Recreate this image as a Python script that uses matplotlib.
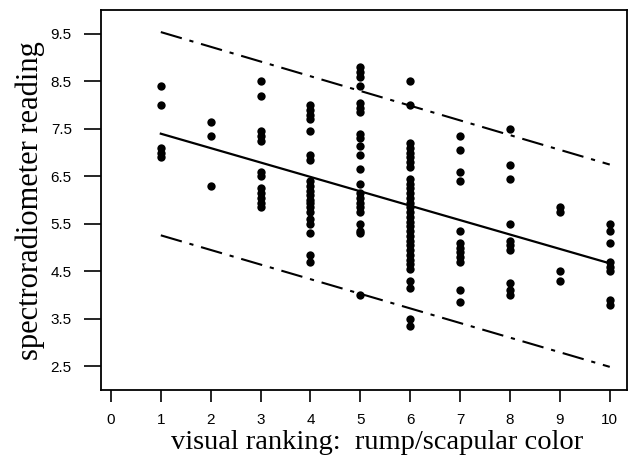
import numpy as np
import matplotlib
matplotlib.use('Agg')
import matplotlib.pyplot as plt

# spectroradiometer readings per visual rank
rank_1 = [8.4, 8.0, 7.1, 7.0, 6.9]
rank_2 = [7.65, 7.35, 6.3]
rank_3 = [8.5, 8.2, 7.45, 7.35, 7.25, 6.6, 6.5, 6.25, 6.15, 6.05, 5.95, 5.85]
rank_4 = [8.0, 7.9, 7.8, 7.7, 7.45, 6.95, 6.85, 6.4, 6.3, 6.2, 6.1, 6.0, 5.95,
          5.85, 5.75, 5.6, 5.5, 5.3, 4.85, 4.7]
rank_5 = [8.8, 8.7, 8.6, 8.4, 8.05, 7.95, 7.85, 7.4, 7.3, 7.15, 6.95, 6.65,
          6.35, 6.15, 6.05, 5.95, 5.85, 5.75, 5.5, 5.35, 5.3, 4.0]
rank_6 = [8.5, 8.0, 7.2, 7.1, 7.0, 6.9, 6.8, 6.7, 6.45, 6.35, 6.25, 6.15,
          6.05, 5.95, 5.85, 5.75, 5.65, 5.55, 5.45, 5.35, 5.25, 5.15, 5.05,
          4.95, 4.85, 4.75, 4.65, 4.55, 4.3, 4.15, 3.5, 3.35]
rank_7 = [7.35, 7.05, 6.6, 6.4, 5.35, 5.1, 5.0, 4.9, 4.8, 4.7, 4.1, 3.85]
rank_8 = [7.5, 6.75, 6.45, 5.5, 5.15, 5.05, 4.95, 4.25, 4.1, 4.0]
rank_9 = [5.85, 5.75, 4.5, 4.3]
rank_10 = [5.5, 5.35, 5.1, 4.7, 4.6, 4.5, 3.9, 3.8]
readings = [rank_1, rank_2, rank_3, rank_4, rank_5, rank_6, rank_7, rank_8, rank_9, rank_10]

# regression line and prediction limits
line_x = [1, 10]
fit_y = [7.4, 4.67]
upper_y = [9.54, 6.75]
lower_y = [5.26, 2.49]

x_ticks = [0, 1, 2, 3, 4, 5, 6, 7, 8, 9, 10]
y_ticks = [2.5, 3.5, 4.5, 5.5, 6.5, 7.5, 8.5, 9.5]
y_tick_labels = ['2.5', '3.5', '4.5', '5.5', '6.5', '7.5', '8.5', '9.5']

fig = plt.figure(figsize=(6.31, 4.65), dpi=100)
ax = fig.add_axes([0.160, 0.161, 0.834, 0.817])

for rank, vals in enumerate(readings, start=1):
    ax.scatter([rank] * len(vals), vals, s=36, color='black', zorder=3, linewidths=0)

ax.plot(line_x, fit_y, color='black', lw=1.6)
ax.plot(line_x, upper_y, color='black', lw=1.5, dashes=(10.5, 3.8, 2, 3.8))
ax.plot(line_x, lower_y, color='black', lw=1.5, dashes=(10.5, 3.8, 2, 3.8))

ax.set_xlim(-0.2, 10.35)
ax.set_ylim(2.0, 10.0)
ax.set_xticks(x_ticks)
ax.set_yticks(y_ticks)
ax.set_yticklabels(y_tick_labels)
ax.tick_params(axis='y', length=12, width=1.2, pad=9, labelsize=11)
ax.tick_params(axis='x', length=8.5, width=1.2, pad=8, labelsize=11)
for lab in ax.get_xticklabels() + ax.get_yticklabels():
    lab.set_family('Liberation Sans')
for sp in ax.spines.values():
    sp.set_linewidth(1.3)

ax.set_xlabel('visual ranking:  rump/scapular color', family='Liberation Serif',
              fontsize=20.5)
ax.set_ylabel('spectroradiometer reading', family='Liberation Serif',
              fontsize=22, labelpad=4)
ax.xaxis.set_label_coords(0.525, -0.106)

fig.savefig('out.png', dpi=100)
